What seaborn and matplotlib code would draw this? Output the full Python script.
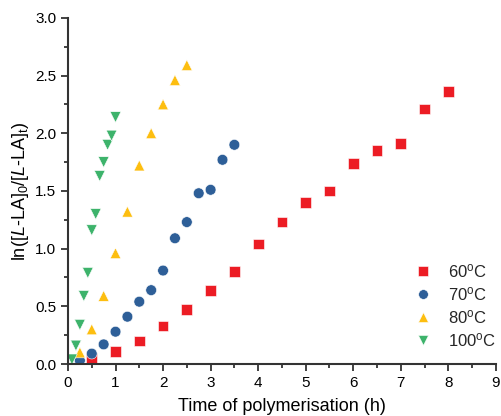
import numpy as np
import pandas as pd
import matplotlib
matplotlib.use('Agg')
import matplotlib.pyplot as plt
import seaborn as sns
from matplotlib.ticker import MultipleLocator, AutoMinorLocator

# reaction data
t_60 = [0.5, 1.0, 1.5, 2.0, 2.5, 3.0, 3.5, 4.0, 4.5, 5.0, 5.5, 6.0, 6.5, 7.0, 7.5, 8.0]
y_60 = [0.05, 0.11, 0.20, 0.33, 0.47, 0.64, 0.80, 1.04, 1.23, 1.40, 1.50, 1.74, 1.85, 1.91, 2.21, 2.36]

t_70 = [0.25, 0.5, 0.75, 1.0, 1.25, 1.5, 1.75, 2.0, 2.25, 2.5, 2.75, 3.0, 3.25, 3.5]
y_70 = [0.03, 0.09, 0.17, 0.28, 0.41, 0.54, 0.64, 0.81, 1.09, 1.23, 1.48, 1.51, 1.77, 1.90]

t_80 = [0.25, 0.5, 0.75, 1.0, 1.25, 1.5, 1.75, 2.0, 2.25, 2.5]
y_80 = [0.10, 0.30, 0.59, 0.96, 1.32, 1.72, 2.00, 2.25, 2.46, 2.59]

t_100 = [0.083, 0.167, 0.25, 0.333, 0.417, 0.5, 0.583, 0.667, 0.75, 0.833, 0.917, 1.0]
y_100 = [0.04, 0.16, 0.34, 0.59, 0.79, 1.16, 1.30, 1.63, 1.75, 1.90, 1.98, 2.14]

labels = ['60$^\\mathrm{o}$C', '70$^\\mathrm{o}$C', '80$^\\mathrm{o}$C', '100$^\\mathrm{o}$C']
colors = ['#EC1C24', '#2E5F98', '#FDBE10', '#3DB36B']
markers = ['s', 'o', '^', 'v']

frames = []
for lab, t, y in zip(labels, [t_60, t_70, t_80, t_100], [y_60, y_70, y_80, y_100]):
    frames.append(pd.DataFrame({'time': t, 'lnratio': y, 'temp': lab}))
df = pd.concat(frames, ignore_index=True)

sns.set_style('ticks')
plt.rcParams['font.family'] = ['Liberation Sans', 'DejaVu Sans']
plt.rcParams['mathtext.fontset'] = 'custom'
plt.rcParams['mathtext.rm'] = 'Liberation Sans'
plt.rcParams['mathtext.it'] = 'Liberation Sans:italic'
plt.rcParams['axes.edgecolor'] = '#333333'
plt.rcParams['xtick.color'] = '#333333'
plt.rcParams['ytick.color'] = '#333333'

fig = plt.figure(figsize=(5.01, 4.16), dpi=100)
ax = fig.add_axes([0.1357, 0.125, 0.854, 0.832])

sns.scatterplot(data=df, x='time', y='lnratio', hue='temp', style='temp',
                palette=dict(zip(labels, colors)), markers=dict(zip(labels, markers)),
                hue_order=labels, style_order=labels,
                s=60, edgecolor='white', linewidth=0.4, ax=ax)

ax.set_xlim(0, 9)
ax.set_ylim(0, 3.0)
ax.xaxis.set_major_locator(MultipleLocator(1))
ax.xaxis.set_minor_locator(AutoMinorLocator(2))
ax.yaxis.set_major_locator(MultipleLocator(0.5))
ax.yaxis.set_minor_locator(AutoMinorLocator(2))
ax.tick_params(which='major', length=5, width=1.3, labelsize=11, labelcolor='black')
ax.tick_params(which='minor', length=3, width=1.3)
for sp in ['left', 'bottom']:
    ax.spines[sp].set_linewidth(1.5)
sns.despine(ax=ax)

ax.set_xlabel('Time of polymerisation (h)', fontsize=13, color='black', labelpad=6)
ax.set_ylabel('ln([$\\mathit{L}$-LA]$_0$/[$\\mathit{L}$-LA]$_\\mathrm{t}$)', fontsize=13, color='black', labelpad=3)

ax.legend(loc='lower right', bbox_to_anchor=(1.035, 0.0), frameon=False, fontsize=12,
          markerscale=0.9, handletextpad=0.5, labelspacing=0.3, title=None)

fig.savefig('out.png', dpi=100)
